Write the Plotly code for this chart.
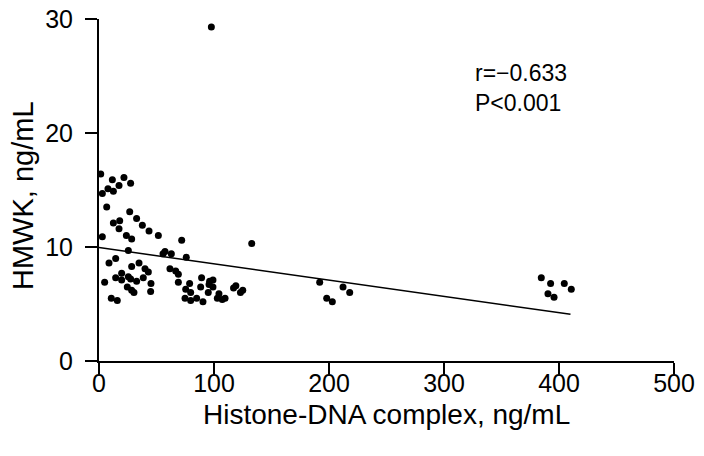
import plotly.graph_objects as go

histone_dna = [1.5, 11.6, 21.7, 17.4, 27.5, 2.9, 7.8, 12.5, 6.7, 26.7, 32.7, 37.7, 43.5, 51.6, 71.9,
               12.5, 18, 17.4, 2.9, 23.8, 28.4, 25.5, 57.4, 55.7, 62.9, 75.9, 14.5, 8.7, 34.8, 28.4,
               40, 42.9, 61.7, 66.7, 69, 19.7, 25.5, 14.5, 19.7, 27.5, 32.7, 38.5, 45.2, 4.9, 24.6,
               28.4, 30.4, 44.9, 69, 78.8, 89.2, 96.2, 99.1, 88.4, 95.7, 99.1, 75.4, 79.7, 95, 102.9,
               74.8, 79.7, 84.9, 90.4, 10.7, 15.9, 132.8, 104.3, 107.2, 109.6, 117, 119, 123, 125,
               191.9, 212.2, 218, 198, 202.9, 384.6, 392.7, 404.6, 410.7, 390.4, 395.7, 97.7]
hmwk = [16.4, 15.9, 16.1, 15.4, 15.6, 14.7, 15.1, 14.9, 13.5, 13.1, 12.5, 11.9, 11.4, 11.0, 10.6,
        12.1, 12.3, 11.6, 10.9, 11.0, 10.7, 9.7, 9.6, 9.4, 9.4, 9.1, 9.0, 8.6, 8.6, 8.3,
        8.1, 7.8, 8.1, 7.9, 7.6, 7.7, 7.4, 7.3, 7.1, 7.2, 7.0, 7.3, 6.8, 6.9, 6.5,
        6.2, 6.0, 6.1, 6.9, 6.8, 7.3, 7.0, 7.1, 6.5, 6.7, 6.5, 6.3, 6.0, 6.0, 5.5,
        5.5, 5.3, 5.5, 5.2, 5.5, 5.3, 10.3, 5.9, 5.4, 5.5, 6.4, 6.6, 6.0, 6.2,
        6.9, 6.5, 6.0, 5.5, 5.2, 7.3, 6.8, 6.8, 6.3, 5.9, 5.6, 29.3]

fit_x = [0, 410]
fit_y = [9.95, 4.1]

x_ticks = [0, 100, 200, 300, 400, 500]
y_ticks = [0, 10, 20, 30]

x_title = "Histone-DNA complex, ng/mL"
y_title = "HMWK, ng/mL"
stat_lines = ["r=\u22120.633", "P<0.001"]

FONT = "Liberation Sans, Arial, Helvetica, sans-serif"

fig = go.Figure()
fig.add_trace(go.Scatter(x=histone_dna, y=hmwk, mode="markers",
                         marker=dict(color="black", size=7), showlegend=False,
                         cliponaxis=False))
fig.add_trace(go.Scatter(x=fit_x, y=fit_y, mode="lines",
                         line=dict(color="black", width=1.5), showlegend=False))

fig.add_annotation(x=325, y=25.3, xref="x", yref="y", text=stat_lines[0], showarrow=False,
                   xanchor="left", yanchor="middle", font=dict(size=23, color="black", family=FONT))
fig.add_annotation(x=325, y=22.6, xref="x", yref="y", text=stat_lines[1], showarrow=False,
                   xanchor="left", yanchor="middle", font=dict(size=23, color="black", family=FONT))

fig.add_annotation(x=0.5, y=0, xref="paper", yref="paper", text=x_title, showarrow=False,
                   xanchor="center", yanchor="middle", yshift=-53,
                   font=dict(size=28, color="black", family=FONT))
fig.add_annotation(x=0, y=0.5, xref="paper", yref="paper", text=y_title, showarrow=False,
                   xanchor="center", yanchor="middle", xshift=-76, yshift=-6, textangle=-90,
                   font=dict(size=29, color="black", family=FONT))

fig.update_layout(
    width=696, height=448,
    margin=dict(l=91, r=30, t=11, b=95),
    paper_bgcolor="white", plot_bgcolor="white",
    font=dict(family=FONT, color="black"),
    xaxis=dict(range=[0, 500], tickvals=x_ticks, showgrid=False, zeroline=False,
               showline=True, linecolor="black", linewidth=2, automargin=False,
               ticks="outside", ticklen=11, tickwidth=2, tickcolor="black",
               ticklabelstandoff=-12, ticklabeloverflow="allow",
               tickfont=dict(size=25)),
    yaxis=dict(range=[0, 30], tickvals=y_ticks, showgrid=False, zeroline=False,
               showline=True, linecolor="black", linewidth=2, automargin=False,
               ticks="outside", ticklen=12, tickwidth=2, tickcolor="black",
               ticklabelstandoff=7, ticklabeloverflow="allow",
               tickfont=dict(size=25)),
)

fig.write_html("out.html")
